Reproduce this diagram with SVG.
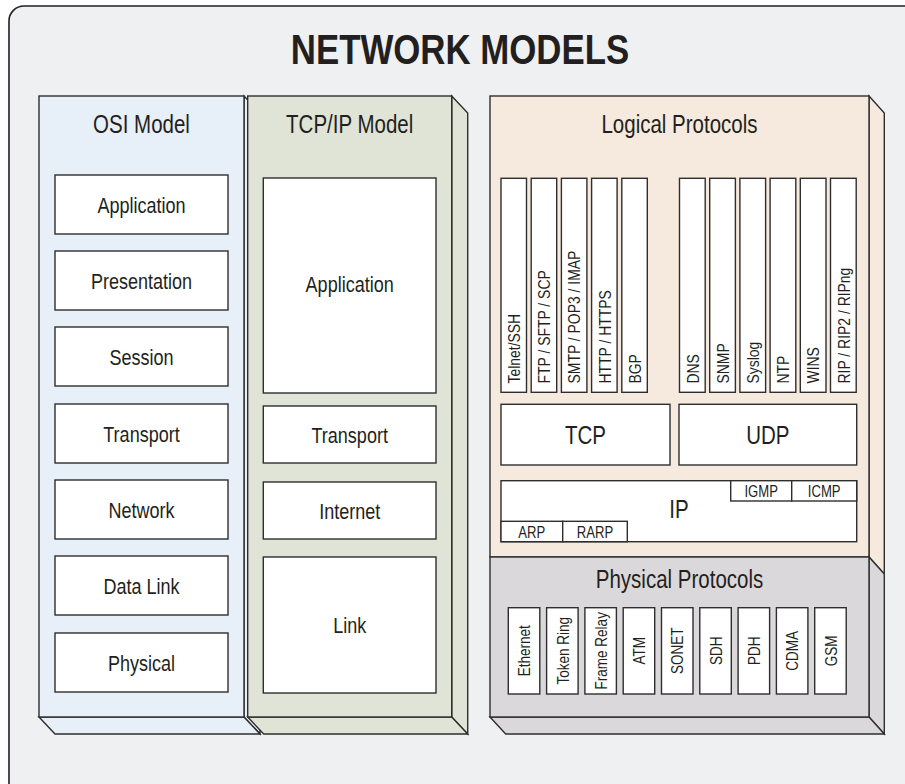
<svg xmlns="http://www.w3.org/2000/svg" width="905" height="784" viewBox="0 0 905 784">
<style>
text{font-family:"Liberation Sans",Arial,sans-serif;fill:#231f20}
.ln{stroke:#2e2e2e;stroke-width:1.4;stroke-linejoin:miter}
.box{fill:#fff;stroke:#2e2e2e;stroke-width:1.4}
.osi{fill:#e7eff9}
.tcpip{fill:#dfe4d6}
.logi{fill:#f6eadf}
.phys{fill:#dad8da}
.hd{font-size:25px;text-anchor:middle}
.lb{font-size:22px;text-anchor:middle}
.big{font-size:25px;text-anchor:middle}
.sm{font-size:16px;text-anchor:middle}
.vl{font-size:17px}
.vp{font-size:16.5px;text-anchor:middle}
</style>
<rect x="9" y="6" width="930" height="810" rx="15" fill="#eff0f2" stroke="#231f20" stroke-width="1.6"/>
<g id="title"><text transform="translate(460,63.5) scale(0.81,1)" font-size="43" font-weight="bold" text-anchor="middle">NETWORK MODELS</text></g>

<g id="osi-model">
<polygon class="osi ln" points="244,96 260,113 260,734 244,717"/>
<polygon class="osi ln" points="39,717 55,734 260,734 244,717"/>
<rect class="osi ln" x="39" y="96" width="205" height="621"/>
<text class="hd" transform="translate(141.5,133) scale(0.82,1)">OSI Model</text>
</g>
<g id="osi-application"><rect class="box" x="55" y="175" width="173" height="59"/><text class="lb" transform="translate(141.5,212.5) scale(0.82,1)">Application</text></g>
<g id="osi-presentation"><rect class="box" x="55" y="251" width="173" height="59"/><text class="lb" transform="translate(141.5,288.5) scale(0.82,1)">Presentation</text></g>
<g id="osi-session"><rect class="box" x="55" y="327" width="173" height="59"/><text class="lb" transform="translate(141.5,364.5) scale(0.82,1)">Session</text></g>
<g id="osi-transport"><rect class="box" x="55" y="404" width="173" height="59"/><text class="lb" transform="translate(141.5,441.5) scale(0.82,1)">Transport</text></g>
<g id="osi-network"><rect class="box" x="55" y="480" width="173" height="59"/><text class="lb" transform="translate(141.5,517.5) scale(0.82,1)">Network</text></g>
<g id="osi-datalink"><rect class="box" x="55" y="556" width="173" height="59"/><text class="lb" transform="translate(141.5,593.5) scale(0.82,1)">Data Link</text></g>
<g id="osi-physical"><rect class="box" x="55" y="633" width="173" height="59"/><text class="lb" transform="translate(141.5,670.5) scale(0.82,1)">Physical</text></g>

<g id="tcpip-model">
<polygon class="tcpip ln" points="451.7,96 467.7,113 467.7,734 451.7,717"/>
<polygon class="tcpip ln" points="247.7,717 263.7,734 467.7,734 451.7,717"/>
<rect class="tcpip ln" x="247.7" y="96" width="204" height="621"/>
<text class="hd" transform="translate(349.7,133) scale(0.82,1)">TCP/IP Model</text>
</g>
<g id="tcpip-application"><rect class="box" x="263.3" y="178" width="172.7" height="215"/><text class="lb" transform="translate(349.7,292) scale(0.82,1)">Application</text></g>
<g id="tcpip-transport"><rect class="box" x="263.3" y="406" width="172.7" height="57"/><text class="lb" transform="translate(349.7,442.5) scale(0.82,1)">Transport</text></g>
<g id="tcpip-internet"><rect class="box" x="263.3" y="482" width="172.7" height="57"/><text class="lb" transform="translate(349.7,518.5) scale(0.82,1)">Internet</text></g>
<g id="tcpip-link"><rect class="box" x="263.3" y="557" width="172.7" height="136"/><text class="lb" transform="translate(349.7,633) scale(0.82,1)">Link</text></g>

<g id="logical-protocols">
<polygon class="logi ln" points="869,96 884.3,113 884.3,574 869,557"/>
<rect class="logi ln" x="490" y="96" width="379" height="461"/>
<text class="hd" transform="translate(679.5,133) scale(0.82,1)">Logical Protocols</text>
</g>
<g id="telnet"><rect class="box" x="501" y="178.3" width="25.5" height="214"/><text class="vl" transform="translate(520,383.5) rotate(-90) scale(0.82,1)">Telnet/SSH</text></g>
<g id="ftp"><rect class="box" x="531.2" y="178.3" width="25.5" height="214"/><text class="vl" transform="translate(550.2,383.5) rotate(-90) scale(0.82,1)">FTP / SFTP / SCP</text></g>
<g id="smtp"><rect class="box" x="561.4" y="178.3" width="25.5" height="214"/><text class="vl" transform="translate(580.4,383.5) rotate(-90) scale(0.82,1)">SMTP / POP3 / IMAP</text></g>
<g id="http"><rect class="box" x="591.6" y="178.3" width="25.5" height="214"/><text class="vl" transform="translate(610.6,383.5) rotate(-90) scale(0.82,1)">HTTP / HTTPS</text></g>
<g id="bgp"><rect class="box" x="621.8" y="178.3" width="25.5" height="214"/><text class="vl" transform="translate(640.8,383.5) rotate(-90) scale(0.82,1)">BGP</text></g>
<g id="dns"><rect class="box" x="679.5" y="178.3" width="25.7" height="214"/><text class="vl" transform="translate(698.6,383.5) rotate(-90) scale(0.82,1)">DNS</text></g>
<g id="snmp"><rect class="box" x="709.7" y="178.3" width="25.7" height="214"/><text class="vl" transform="translate(728.8,383.5) rotate(-90) scale(0.82,1)">SNMP</text></g>
<g id="syslog"><rect class="box" x="739.9" y="178.3" width="25.7" height="214"/><text class="vl" transform="translate(759,383.5) rotate(-90) scale(0.82,1)">Syslog</text></g>
<g id="ntp"><rect class="box" x="770.1" y="178.3" width="25.7" height="214"/><text class="vl" transform="translate(789.2,383.5) rotate(-90) scale(0.82,1)">NTP</text></g>
<g id="wins"><rect class="box" x="800.3" y="178.3" width="25.7" height="214"/><text class="vl" transform="translate(819.4,383.5) rotate(-90) scale(0.82,1)">WINS</text></g>
<g id="rip"><rect class="box" x="830.5" y="178.3" width="25.7" height="214"/><text class="vl" transform="translate(849.6,383.5) rotate(-90) scale(0.82,1)">RIP / RIP2 / RIPng</text></g>
<g id="tcp"><rect class="box" x="501" y="404.3" width="169" height="60.7"/><text class="big" transform="translate(585.5,443.5) scale(0.82,1)">TCP</text></g>
<g id="udp"><rect class="box" x="679" y="404.3" width="177.7" height="60.7"/><text class="big" transform="translate(767.8,443.5) scale(0.82,1)">UDP</text></g>
<g id="ip"><rect class="box" x="501" y="480.7" width="355.7" height="61"/><text class="big" transform="translate(679,518) scale(0.82,1)" font-size="26">IP</text></g>
<g id="igmp"><rect class="box" x="730.7" y="480.7" width="61" height="20.3"/><text class="sm" transform="translate(761.2,497) scale(0.82,1)">IGMP</text></g>
<g id="icmp"><rect class="box" x="791.7" y="480.7" width="65" height="20.3"/><text class="sm" transform="translate(824.2,497) scale(0.82,1)">ICMP</text></g>
<g id="arp"><rect class="box" x="501" y="521.3" width="61.7" height="20.4"/><text class="sm" transform="translate(531.8,537.5) scale(0.82,1)">ARP</text></g>
<g id="rarp"><rect class="box" x="562.7" y="521.3" width="64.6" height="20.4"/><text class="sm" transform="translate(595,537.5) scale(0.82,1)">RARP</text></g>

<g id="physical-protocols">
<polygon class="phys ln" points="869,557 884.3,574 884.3,734 869,717"/>
<polygon class="phys ln" points="490,717 505.7,734 884.3,734 869,717"/>
<rect class="phys ln" x="490" y="557" width="379" height="160"/>
<text class="hd" transform="translate(679.5,587.7) scale(0.82,1)" font-size="25.5">Physical Protocols</text>
</g>
<g id="ethernet"><rect class="box" x="508.3" y="607.7" width="31.5" height="86.3"/><text class="vp" transform="translate(530.2,650.8) rotate(-90) scale(0.82,1)">Ethernet</text></g>
<g id="tokenring"><rect class="box" x="546.6" y="607.7" width="31.5" height="86.3"/><text class="vp" transform="translate(568.5,650.8) rotate(-90) scale(0.82,1)">Token Ring</text></g>
<g id="framerelay"><rect class="box" x="584.9" y="607.7" width="31.5" height="86.3"/><text class="vp" transform="translate(606.8,650.8) rotate(-90) scale(0.82,1)">Frame Relay</text></g>
<g id="atm"><rect class="box" x="623.2" y="607.7" width="31.5" height="86.3"/><text class="vp" transform="translate(645.1,650.8) rotate(-90) scale(0.82,1)">ATM</text></g>
<g id="sonet"><rect class="box" x="661.5" y="607.7" width="31.5" height="86.3"/><text class="vp" transform="translate(683.4,650.8) rotate(-90) scale(0.82,1)">SONET</text></g>
<g id="sdh"><rect class="box" x="699.8" y="607.7" width="31.5" height="86.3"/><text class="vp" transform="translate(721.7,650.8) rotate(-90) scale(0.82,1)">SDH</text></g>
<g id="pdh"><rect class="box" x="738.1" y="607.7" width="31.5" height="86.3"/><text class="vp" transform="translate(760,650.8) rotate(-90) scale(0.82,1)">PDH</text></g>
<g id="cdma"><rect class="box" x="776.4" y="607.7" width="31.5" height="86.3"/><text class="vp" transform="translate(798.3,650.8) rotate(-90) scale(0.82,1)">CDMA</text></g>
<g id="gsm"><rect class="box" x="814.7" y="607.7" width="31.5" height="86.3"/><text class="vp" transform="translate(836.6,650.8) rotate(-90) scale(0.82,1)">GSM</text></g>
</svg>
